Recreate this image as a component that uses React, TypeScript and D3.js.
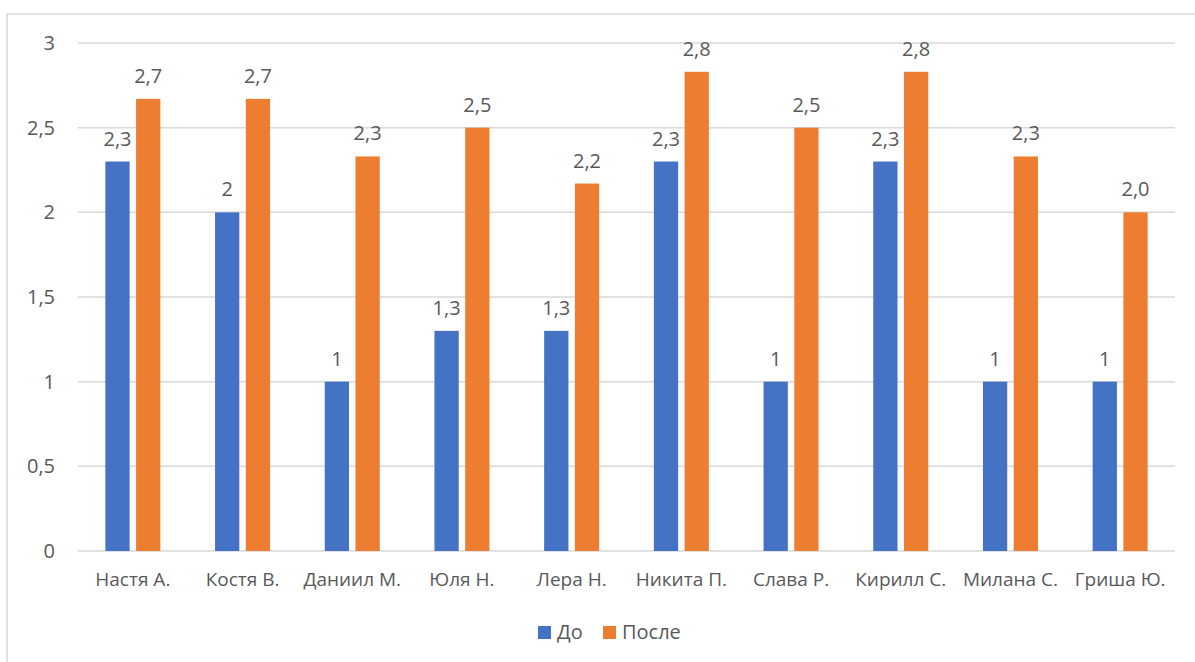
import * as d3 from "d3";

const categories = [
  "Настя А.", "Костя В.", "Даниил М.", "Юля Н.", "Лера Н.",
  "Никита П.", "Слава Р.", "Кирилл С.", "Милана С.", "Гриша Ю.",
];
const seriesNames = ["До", "После"];
const beforeValues = [2.3, 2, 1, 1.3, 1.3, 2.3, 1, 2.3, 1, 1];
const afterValues = [2.67, 2.67, 2.33, 2.5, 2.17, 2.83, 2.5, 2.83, 2.33, 2.0];
const beforeLabels = ["2,3", "2", "1", "1,3", "1,3", "2,3", "1", "2,3", "1", "1"];
const afterLabels = ["2,7", "2,7", "2,3", "2,5", "2,2", "2,8", "2,5", "2,8", "2,3", "2,0"];
const yTicks = [0, 0.5, 1, 1.5, 2, 2.5, 3];

const colors = ["#4472C4", "#ED7D31"];
const W = 1195;
const H = 662;
const FONT = "'Open Sans', 'DejaVu Sans', sans-serif";
const TEXT = "#595959";

export default function App() {
  const x0 = d3.scaleBand<string>().domain(categories).range([78, 1175]).padding(0);
  const y = d3.scaleLinear().domain([0, 3]).range([551, 43]);
  const x1 = d3.scaleBand<string>().domain(seriesNames).range([-27.5, 27.5]).paddingInner(0.21);
  const fmt = (v: number) => String(v).replace(".", ",");

  const series = [
    { name: seriesNames[0], values: beforeValues, labels: beforeLabels },
    { name: seriesNames[1], values: afterValues, labels: afterLabels },
  ];

  return (
    <svg width={W} height={H} style={{ position: "absolute", left: 0, top: 0 }} fontFamily={FONT}>
      <rect x={0} y={0} width={W} height={H} fill="#fff" />
      <rect x={7} y={14} width={W + 20} height={H + 20} fill="none" stroke="#d9d9d9" strokeWidth={1.5} />

      {/* gridlines + y labels */}
      {yTicks.map((t) => (
        <g key={t}>
          <line x1={78} x2={1175} y1={y(t)} y2={y(t)} stroke="#d9d9d9" strokeWidth={1.5} />
          <text x={55} y={y(t)} dy="0.35em" textAnchor="end" fontSize={20} fill={TEXT}>
            {fmt(t)}
          </text>
        </g>
      ))}

      {/* bars */}
      {categories.map((c, i) => {
        const cx = (x0(c) ?? 0) + x0.bandwidth() / 2;
        return (
          <g key={c}>
            {series.map((s, si) => {
              const bx = cx + (x1(s.name) ?? 0);
              const top = y(s.values[i]);
              return (
                <g key={s.name}>
                  <rect x={bx} y={top} width={x1.bandwidth()} height={y(0) - top} fill={colors[si]} />
                  <text x={bx + x1.bandwidth() / 2} y={top - 16} textAnchor="middle" fontSize={20} fill={TEXT}>
                    {s.labels[i]}
                  </text>
                </g>
              );
            })}
            <text x={cx} y={586} textAnchor="middle" fontSize={19} fill={TEXT}>
              {c}
            </text>
          </g>
        );
      })}

      {/* legend */}
      {series.map((s, si) => {
        const lx = [538, 603][si];
        return (
          <g key={s.name}>
            <rect x={lx} y={626} width={13} height={13} fill={colors[si]} />
            <text x={lx + 19} y={632} dy="0.35em" fontSize={20} fill={TEXT}>
              {s.name}
            </text>
          </g>
        );
      })}
    </svg>
  );
}
